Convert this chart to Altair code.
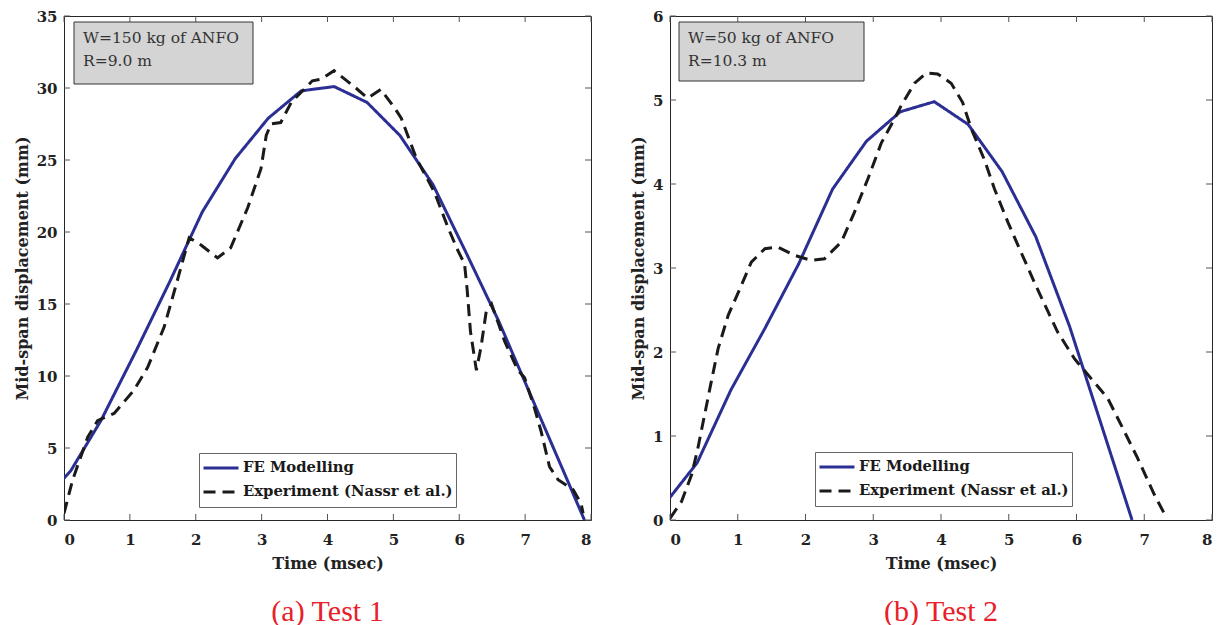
import altair as alt
import pandas as pd

SERIES = ["FE Modelling", "Experiment (Nassr et al.)"]
X_TICKS = [0, 1, 2, 3, 4, 5, 6, 7, 8]

# ---- Test 1 (W=150 kg, R=9.0 m)
t1_fe_time = [0, 0.1, 0.56, 1.1, 1.6, 2.1, 2.6, 3.1, 3.6, 4.1, 4.6, 5.1, 5.6, 6.1, 6.6, 7.1, 7.6, 7.9]
t1_fe_disp = [2.9, 3.4, 6.9, 11.8, 16.5, 21.4, 25.1, 27.9, 29.8, 30.1, 29.0, 26.7, 23.3, 18.6, 13.8, 8.5, 3.2, 0.0]
t1_ex_time = [0, 0.13, 0.36, 0.51, 0.76, 1.06, 1.27, 1.52, 1.7, 1.9, 2.08, 2.33, 2.53, 2.79, 2.99,
              3.07, 3.14, 3.29, 3.45, 3.6, 3.77, 3.9, 4.1, 4.43, 4.61, 4.81, 5.02, 5.12, 5.35, 5.62,
              5.83, 5.98, 6.08, 6.12, 6.17, 6.26, 6.33, 6.41, 6.49, 6.69, 6.89, 6.99, 7.14, 7.24, 7.37,
              7.5, 7.73, 7.85, 7.88]
t1_ex_disp = [0.46, 2.77, 5.76, 6.9, 7.4, 9.0, 10.6, 13.4, 16.3, 19.6, 19.1, 18.2, 18.9, 21.7, 24.4,
              26.7, 27.5, 27.6, 29.0, 29.7, 30.5, 30.6, 31.2, 30.0, 29.3, 29.9, 28.6, 27.9, 25.1, 22.8,
              20.3, 18.7, 17.8, 16.0, 13.1, 10.4, 12.0, 14.5, 15.0, 12.4, 10.4, 9.9, 7.8, 6.2, 3.7,
              2.8, 2.1, 1.15, 0.46]
t1_y_ticks = [0, 5, 10, 15, 20, 25, 30, 35]
t1_note = "W=150 kg of ANFO\nR=9.0 m"
t1_caption = "(a) Test 1"

# ---- Test 2 (W=50 kg, R=10.3 m)
t2_fe_time = [0, 0.4, 0.9, 1.4, 1.9, 2.4, 2.9, 3.4, 3.9, 4.4, 4.9, 5.4, 5.9, 6.82]
t2_fe_disp = [0.27, 0.68, 1.55, 2.28, 3.05, 3.94, 4.51, 4.86, 4.98, 4.71, 4.15, 3.37, 2.3, 0.0]
t2_ex_time = [0, 0.17, 0.32, 0.41, 0.51, 0.61, 0.71, 0.86, 1.03, 1.2, 1.4, 1.59, 1.84, 2.09, 2.28,
              2.53, 2.72, 2.92, 3.12, 3.31, 3.41, 3.61, 3.78, 3.95, 4.15, 4.32, 4.45, 4.64, 4.79, 4.99,
              5.18, 5.4, 5.72, 5.97, 6.22, 6.46, 6.66, 6.9, 7.15, 7.32]
t2_ex_disp = [0.02, 0.22, 0.54, 0.85, 1.25, 1.65, 2.04, 2.44, 2.75, 3.07, 3.23, 3.25, 3.15, 3.09, 3.11,
              3.31, 3.66, 4.06, 4.49, 4.77, 4.93, 5.2, 5.32, 5.31, 5.2, 4.97, 4.65, 4.29, 3.94, 3.54,
              3.19, 2.79, 2.24, 1.92, 1.68, 1.45, 1.13, 0.74, 0.30, 0.04]
t2_y_ticks = [0, 1, 2, 3, 4, 5, 6]
t2_note = "W=50 kg of ANFO\nR=10.3 m"
t2_caption = "(b) Test 2"

BLUE = "#2b2f93"
BLACK = "#1a1a1a"
AXC = "#262626"
TICKC = "#555555"
FONT = "DejaVu Serif"


def panel(fe_t, fe_d, ex_t, ex_d, y_ticks, note, caption, W, H, box, legxy):
    df = pd.DataFrame({
        "t": fe_t + ex_t,
        "d": fe_d + ex_d,
        "series": [SERIES[0]] * len(fe_t) + [SERIES[1]] * len(ex_t),
        "i": list(range(len(fe_t))) + list(range(len(ex_t))),
    })
    xs = alt.Scale(domain=[X_TICKS[0], X_TICKS[-1]], nice=False)
    ys = alt.Scale(domain=[y_ticks[0], y_ticks[-1]], nice=False)
    xax = alt.Axis(title="Time (msec)", values=X_TICKS, format="d", labelPadding=12, titlePadding=8)
    yax = alt.Axis(title="Mid-span displacement (mm)", values=y_ticks, format="d",
                   labelPadding=7, titlePadding=6)
    leg = dict(orient="none", legendX=legxy[0], legendY=legxy[1], title=None,
               symbolType="stroke", symbolSize=1225, symbolStrokeWidth=3,
               labelFont=FONT, labelFontSize=14.8, labelFontWeight="bold", labelColor=BLACK,
               labelOffset=3, strokeColor="#666666", fillColor="white", padding=3,
               rowPadding=0, clipHeight=24, labelLimit=400)
    lines = alt.Chart(df).mark_line(strokeWidth=3, clip=True).encode(
        x=alt.X("t:Q", scale=xs, axis=xax),
        y=alt.Y("d:Q", scale=ys, axis=yax),
        color=alt.Color("series:N", scale=alt.Scale(domain=SERIES, range=[BLUE, BLACK]),
                        legend=alt.Legend(**leg)),
        strokeDash=alt.StrokeDash("series:N", scale=alt.Scale(domain=SERIES, range=[[1, 0], [12, 7]]),
                                  legend=alt.Legend(**leg)),
        order="i:Q",
    )
    xt = pd.DataFrame({"t": X_TICKS})
    yt = pd.DataFrame({"d": y_ticks})
    tk = dict(color=TICKC, strokeWidth=1)
    xb = alt.Chart(xt).mark_rule(**tk).encode(x=alt.X("t:Q", scale=xs, axis=xax),
                                             y=alt.value(H), y2=alt.value(H - 6))
    xtop = alt.Chart(xt).mark_rule(**tk).encode(x=alt.X("t:Q", scale=xs, axis=xax),
                                               y=alt.value(0), y2=alt.value(6))
    yl = alt.Chart(yt).mark_rule(**tk).encode(y=alt.Y("d:Q", scale=ys, axis=yax),
                                             x=alt.value(0), x2=alt.value(6))
    yr = alt.Chart(yt).mark_rule(**tk).encode(y=alt.Y("d:Q", scale=ys, axis=yax),
                                             x=alt.value(W), x2=alt.value(W - 6))
    nd = pd.DataFrame({"note": [note]})
    rect = alt.Chart(nd).mark_rect(fill="#d4d4d4", stroke="#333333", strokeWidth=1).encode(
        x=alt.value(box[0]), x2=alt.value(box[2]), y=alt.value(box[1]), y2=alt.value(box[3]))
    txt = alt.Chart(nd).mark_text(align="left", baseline="top", font=FONT, fontSize=15.5,
                                  lineBreak="\n", lineHeight=23, color="#333333").encode(
        x=alt.value(box[0] + 9), y=alt.value(box[1] + 9), text="note:N")
    return alt.layer(lines, xb, xtop, yl, yr, rect, txt).properties(
        width=W, height=H,
        title=alt.TitleParams(caption, orient="bottom", font="Liberation Serif", fontSize=30,
                              fontWeight="normal", color="#e8202a", offset=26, anchor="middle"),
    )


p1 = panel(t1_fe_time, t1_fe_disp, t1_ex_time, t1_ex_disp, t1_y_ticks, t1_note, t1_caption,
           527, 504, (10, 6, 189, 68), (135, 437))
p2 = panel(t2_fe_time, t2_fe_disp, t2_ex_time, t2_ex_disp, t2_y_ticks, t2_note, t2_caption,
           542, 504, (9, 6, 194, 65), (145, 436))

chart = alt.hconcat(p1, p2, spacing=38).resolve_scale(
    color="independent", strokeDash="independent", x="independent", y="independent"
).resolve_legend(color="independent", strokeDash="independent").properties(
    padding={"left": 5, "top": 0, "right": 0, "bottom": 0},
    background="white",
).configure_view(stroke=AXC, strokeWidth=1).configure_axis(
    domain=False, ticks=False, tickSize=0, grid=False,
    labelFont=FONT, labelFontSize=15, labelFontWeight="bold", labelColor="#222222",
    titleFont=FONT, titleFontSize=16, titleFontWeight="bold", titleColor="#222222",
)

chart.save("out.html", embed_options={"renderer": "svg", "actions": False})
